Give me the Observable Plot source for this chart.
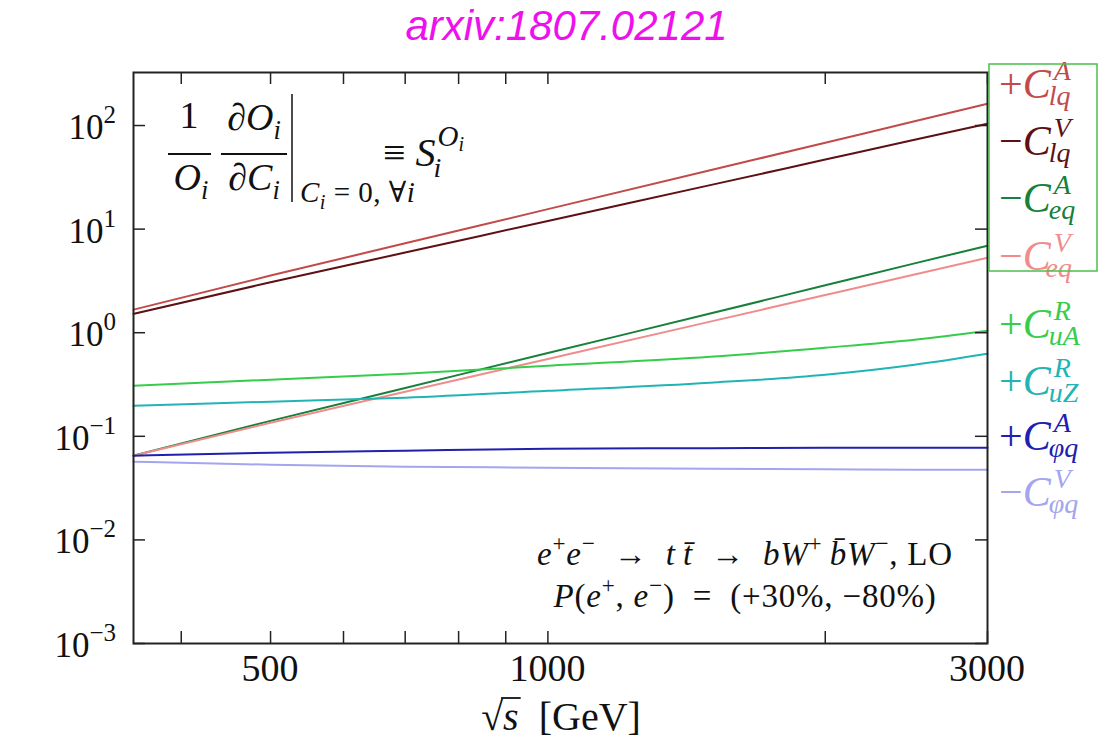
<!DOCTYPE html>
<html><head><meta charset="utf-8">
<script src="https://cdn.jsdelivr.net/npm/d3@7"></script>
<script src="https://cdn.jsdelivr.net/npm/@observablehq/plot@0.6"></script>
<style>
body{margin:0;background:#fff;}
#title{height:50px;box-sizing:border-box;padding-left:14px;text-align:center;font:italic 42px "Liberation Sans",sans-serif;color:#ee11ee;line-height:52px;}
#chart svg{display:block;overflow:visible;}
</style></head><body>
<div id="title">arxiv:1807.02121</div>
<div id="chart"></div>
<script>
// ---- data ----
const sqrtS   = [355, 500, 700, 1000, 1500, 2000, 2500, 3000];
const sLqA    = [1.67, 3.56, 7.29, 15.6, 37.0, 68.2, 110, 162];
const sLqV    = [1.52, 3.07, 5.94, 12.0, 26.6, 46.9, 72.8, 104];
const sEqA    = [0.065, 0.141, 0.293, 0.637, 1.53, 2.87, 4.67, 6.92];
const sEqV    = [0.065, 0.135, 0.269, 0.558, 1.28, 2.31, 3.65, 5.30];
const sUaR    = [0.308, 0.352, 0.402, 0.480, 0.586, 0.716, 0.855, 1.045];
const sUzR    = [0.197, 0.216, 0.236, 0.275, 0.329, 0.393, 0.491, 0.627];
const sPhiqA  = [0.065, 0.0695, 0.0726, 0.0759, 0.0768, 0.0776, 0.0776, 0.0776];
const sPhiqV  = [0.0569, 0.0532, 0.0509, 0.0498, 0.0487, 0.0482, 0.0476, 0.0476];
const labelSign = ["+", "−", "−", "−", "+", "+", "+", "−"];
const labelSup  = ["A", "V", "A", "V", "R", "R", "A", "V"];
const labelSub  = ["lq", "lq", "eq", "eq", "uA", "uZ", "φq", "φq"];
const xTickLabels = [500, 1000, 3000];
const xMinorTicks = [400, 600, 700, 800, 900, 2000];
const yTickValues = [1e-3, 1e-2, 1e-1, 1, 10, 100];
const yTickExp    = ["−3", "−2", "−1", "0", "1", "2"];
const processLine = [["e","i"],["+","sup"],["e","i"],["−","sup"],["  →  ","r"],["t","i"],["\u2009t\u0304","i"],["  →  ","r"],["bW","i"],["+","sup"],["\u2009b\u0304W","i"],["−","sup"],[", LO","r"]];
const polLine = [["P","i"],["(","r"],["e","i"],["+","sup"],[", ","r"],["e","i"],["−","sup"],[")  =  (+30%, −80%)","r"]];

// ---- styles ----
const series = [sLqA, sLqV, sEqA, sEqV, sUaR, sUzR, sPhiqA, sPhiqV];
const colors = ["#c24a4a", "#5e1014", "#17803a", "#f08c8c", "#36cc4c", "#22b4b4", "#2020b0", "#a4a4f0"];
const serif = "'Liberation Serif','DejaVu Serif',serif";

const W = 1119, H = 694, mT = 22, mB = 101, mL = 133, mR = 132;
const innerH = H - mT - mB, innerW = W - mL - mR, tl = 12;

const rows = series.flatMap((s, i) => sqrtS.map((x, j) => ({k: i, x, y: s[j]})));

const plot = Plot.plot({
  width: W, height: H,
  marginTop: mT, marginBottom: mB, marginLeft: mL, marginRight: mR,
  x: {type: "log", domain: [355, 3000], axis: null},
  y: {type: "log", domain: [1e-3, 325], axis: null},
  style: {fontFamily: serif, background: "white"},
  marks: [
    ...series.map((s, i) => Plot.line(rows.filter(r => r.k === i), {x: "x", y: "y", stroke: colors[i], strokeWidth: 2, curve: "monotone-x"})),
    Plot.tickX([...xTickLabels, ...xMinorTicks], {x: d => d, insetTop: innerH - tl, stroke: "#222", strokeWidth: 1.5}),
    Plot.tickX([...xTickLabels, ...xMinorTicks], {x: d => d, insetBottom: innerH - tl, stroke: "#222", strokeWidth: 1.5}),
    Plot.tickY(yTickValues, {y: d => d, insetRight: innerW - tl, stroke: "#222", strokeWidth: 1.5}),
    Plot.tickY(yTickValues, {y: d => d, insetLeft: innerW - tl, stroke: "#222", strokeWidth: 1.5}),
    Plot.frame({stroke: "#222", strokeWidth: 2})
  ]
});
document.getElementById("chart").appendChild(plot);

const sx = plot.scale("x").apply, sy = plot.scale("y").apply;
const svg = d3.select(plot);
const g = svg.append("g").attr("font-family", serif).attr("fill", "#111").attr("text-anchor", "start");

// kinds: r roman, i italic, sup/sub roman script, supi/subi italic script
function mtext(parent, x, y, parts, size, anchor = "start", fill = "#111", ls = 0) {
  const t = parent.append("text").attr("x", x).attr("y", y).attr("text-anchor", anchor)
    .attr("font-size", size).attr("fill", fill).style("white-space", "pre").style("letter-spacing", ls + "px");
  let cur = 0;
  for (const [txt, kind] of parts) {
    const isSup = kind.startsWith("sup"), isSub = kind.startsWith("sub");
    const off = isSup ? -0.42 * size : isSub ? 0.24 * size : 0;
    t.append("tspan").attr("dy", off - cur)
      .attr("font-size", (isSup || isSub) ? size * 0.7 : size)
      .attr("font-style", (kind === "i" || kind.endsWith("i")) ? "italic" : "normal").text(txt);
    cur = off;
  }
  return t;
}

// x tick labels
xTickLabels.forEach(v => {
  g.append("text").attr("x", sx(v)).attr("y", H - mB + 38).attr("text-anchor", "middle")
    .attr("font-size", 38).text(String(v));
});
// y tick labels
yTickValues.forEach((v, i) => {
  const t = g.append("text").attr("x", mL - 17).attr("y", sy(v) + 14).attr("text-anchor", "end").attr("font-size", 35);
  t.append("tspan").text("10");
  t.append("tspan").attr("dy", -16).attr("font-size", 25).text(yTickExp[i]);
});
// x axis label
{
  const base = H - 14, size = 40;
  const t = g.append("text").attr("x", 561).attr("y", base).attr("text-anchor", "middle").attr("font-size", size).style("white-space", "pre");
  t.append("tspan").text("√");
  t.append("tspan").attr("font-style", "italic").text("s");
  t.append("tspan").text("  [GeV]");
  const n = t.node();
  const x0 = n.getEndPositionOfChar(0).x - 2, x1 = n.getEndPositionOfChar(1).x + 2;
  g.append("line").attr("x1", x0).attr("x2", x1).attr("y1", base - 0.8 * size).attr("y2", base - 0.8 * size)
    .attr("stroke", "#111").attr("stroke-width", 1.8);
}
// process annotation
mtext(g, 745, 515, processLine, 33, "middle", "#111", 0.8);
mtext(g, 745, 557, polLine, 33, "middle", "#111", 0.8);

// inset formula
{
  const f = g.append("g").attr("font-size", 38);
  f.append("text").attr("x", 189).attr("y", 78).attr("text-anchor", "middle").text("1");
  f.append("line").attr("x1", 168).attr("x2", 211).attr("y1", 104).attr("y2", 104).attr("stroke", "#111").attr("stroke-width", 2);
  mtext(f, 191, 140, [["O", "i"], ["i", "subi"]], 38, "middle");
  mtext(f, 254, 80, [["∂", "r"], ["O", "i"], ["i", "subi"]], 38, "middle");
  f.append("line").attr("x1", 221).attr("x2", 287).attr("y1", 104).attr("y2", 104).attr("stroke", "#111").attr("stroke-width", 2);
  mtext(f, 254, 140, [["∂", "r"], ["C", "i"], ["i", "subi"]], 38, "middle");
  f.append("line").attr("x1", 292).attr("x2", 292).attr("y1", 44).attr("y2", 152).attr("stroke", "#111").attr("stroke-width", 1.5);
  mtext(f, 300, 152, [["C", "i"], ["i", "subi"], [" = 0, ∀", "r"], ["i", "i"]], 29, "start", "#111", 0.5);
  const e = f.append("text").attr("x", 383).attr("y", 116).attr("font-size", 40).attr("text-anchor", "start").style("white-space", "pre");
  e.append("tspan").text("≡ ");
  e.append("tspan").attr("font-style", "italic").text("S");
  const sup = e.append("tspan").attr("dy", -20).attr("dx", 2).attr("font-size", 29).attr("font-style", "italic").text("O");
  const supI = e.append("tspan").attr("dy", 5).attr("font-size", 20).attr("font-style", "italic").text("i");
  const supLen = sup.node().getComputedTextLength() + supI.node().getComputedTextLength() + 4;
  e.append("tspan").attr("dx", -supLen).attr("dy", 26).attr("font-size", 28).attr("font-style", "italic").text("i");
}

// right-hand labels
const labelBase = [48, 105, 162, 220, 288, 345, 400, 456];
labelBase.forEach((y, i) => {
  const t = g.append("text").attr("x", 999).attr("y", y).attr("font-size", 42).attr("fill", colors[i]).attr("text-anchor", "start");
  t.append("tspan").text(labelSign[i]);
  t.append("tspan").attr("font-style", "italic").text("C");
  const sp = t.append("tspan").attr("dy", -18).attr("dx", 3).attr("font-size", 28).attr("font-style", "italic").text(labelSup[i]);
  const len = sp.node().getComputedTextLength() + 5;
  t.append("tspan").attr("dx", -len).attr("dy", 25).attr("font-size", 28).attr("font-style", "italic").text(labelSub[i]);
});
// green box round first four labels
g.append("rect").attr("x", 989).attr("y", 14).attr("width", 108).attr("height", 207)
  .attr("fill", "none").attr("stroke", "#4cbf4c").attr("stroke-width", 1.5);
</script>
</body></html>
